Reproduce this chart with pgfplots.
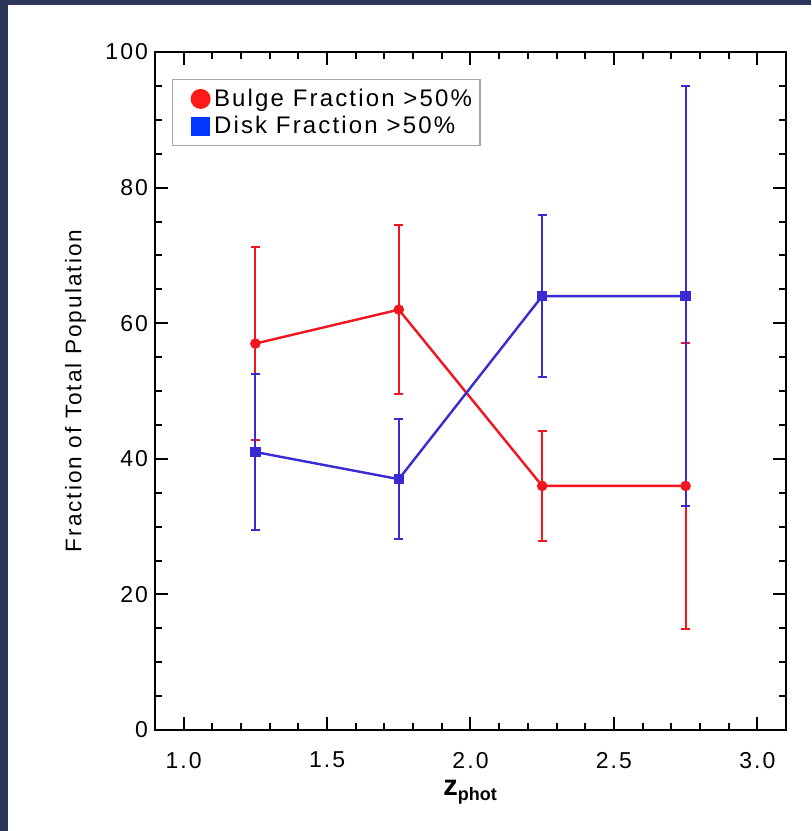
\documentclass[border=0pt]{standalone}
\usepackage{fontspec}
\setmainfont{Liberation Sans}
\newfontfamily\idl[LetterSpace=9]{Liberation Sans}
\usepackage{pgfplots}
\usepackage{pgfplotstable}
\pgfplotsset{compat=1.18}

\definecolor{navy}{HTML}{2C3659}
\definecolor{bred}{HTML}{F2141E}
\definecolor{bblue}{HTML}{3A2AD4}
\definecolor{lred}{HTML}{FF1A1A}
\definecolor{lblue}{HTML}{0038FF}

\pgfplotstableread{
x y e
1.25 57 14.2
1.75 62 12.5
2.25 36 8.1
2.75 36 21.1
}\bulge

\pgfplotstableread{
x y e
1.25 41 11.5
1.75 37 8.8
2.25 64 12.0
2.75 64 31.0
}\disk

\begin{document}
\begin{tikzpicture}
\fill[navy] (0,0) rectangle (405.5pt,-415.5pt);
\fill[white] (4pt,-2.5pt) rectangle (405.5pt,-415.5pt);
\begin{axis}[
  at={(77.5pt,-365pt)}, anchor=south west,
  scale only axis, width=315.5pt, height=339pt,
  xmin=0.9, xmax=3.1, ymin=0, ymax=100,
  xtick={1,1.5,2,2.5,3},
  xticklabels={1.0,1.5,2.0,2.5,3.0},
  minor x tick num=4,
  ytick={0,20,40,60,80,100},
  minor y tick num=3,
  tick align=inside,
  major tick length=6.5pt,
  minor tick length=3.6pt,
  axis line style={line width=1.2pt},
  every tick/.style={black, line width=1pt},
  /pgf/number format/assume math mode=true,
  tick label style={font=\idl\fontsize{11.5}{13}\selectfont},
  xticklabel style={yshift=-7.5pt},
  every axis x label/.style={at={(axis description cs:0.5,-0.0973)}, anchor=base},
  every axis y label/.style={at={(axis description cs:-0.1165,0.5)}, anchor=base, rotate=90},
  xlabel={\fontsize{14.5}{16}\selectfont\textbf{z}\textsubscript{\fontsize{9}{10}\selectfont\textbf{phot}}},
  ylabel={\idl\fontsize{11.3}{13}\selectfont Fraction of Total Population},
  legend style={at={(axis description cs:0.027,0.960)}, anchor=north west,
    draw=gray!70, line width=0.6pt, font=\idl\fontsize{12}{14}\selectfont,
    inner xsep=2pt, inner ysep=2.5pt, row sep=-0.5pt},
  legend image code/.code={\draw[draw=none, fill=none] (0pt,0pt) -- (16pt,0pt);
    \draw[#1] plot coordinates {(12pt,0pt)};},
  legend cell align=left,
  clip=false,
]
\addlegendimage{only marks, mark=*, lred, mark size=4.7pt}
\addlegendentry{Bulge Fraction >50\%}
\addlegendimage{only marks, mark=square*, lblue, mark size=4.3pt}
\addlegendentry{Disk Fraction >50\%}

\addplot[bred, line width=1.2pt, mark=*, mark size=2pt, forget plot,
  error bars/.cd, y dir=both, y explicit,
  error bar style={line width=1pt},
  error mark options={rotate=90, bred, mark size=2.2pt, line width=1pt}]
  table[x=x, y=y, y error=e]{\bulge};

\addplot[bblue, line width=1.2pt, mark=square*, mark size=2pt, forget plot,
  error bars/.cd, y dir=both, y explicit,
  error bar style={line width=1pt},
  error mark options={rotate=90, bblue, mark size=2.2pt, line width=1pt}]
  table[x=x, y=y, y error=e]{\disk};
\end{axis}
\end{tikzpicture}
\end{document}
